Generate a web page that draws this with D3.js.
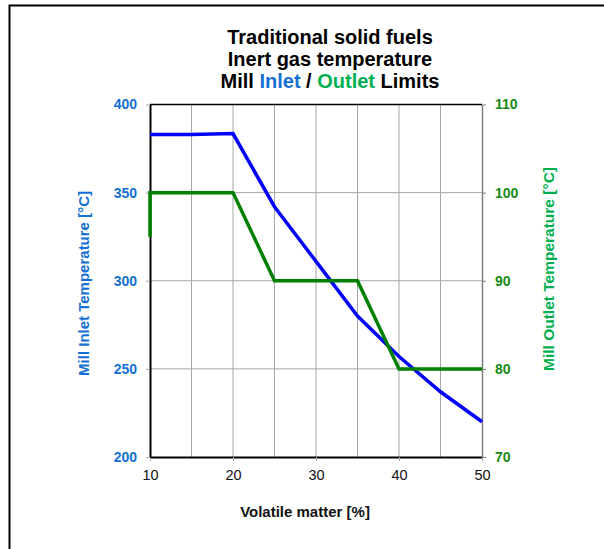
<!DOCTYPE html>
<html>
<head>
<meta charset="utf-8">
<script src="https://cdn.jsdelivr.net/npm/d3@7"></script>
<style>
	body { margin: 0; background: #fff; }
	svg { font-family: "Liberation Sans", Arial, sans-serif; }
</style>
</head>
<body>
<div id="chart"></div>
<script>
// volatile matter [%]
var volatile = [10, 15, 20, 25, 30, 35, 40, 45, 50];
// mill inlet limit [°C], left axis
var inletTemp = [383, 383, 383.5, 342, 311, 280, 257, 237, 220];
// mill outlet limit [°C], right axis; first point starts the vertical stub at x = 10
var outletX = [10, 10, 15, 20, 25, 30, 35, 40, 45, 50];
var outletTemp = [95, 100, 100, 100, 90, 90, 90, 80, 80, 80];

var xTicks = [10, 20, 30, 40, 50];
var xGrid = [15, 20, 25, 30, 35, 40, 45];
var leftTicks = [200, 250, 300, 350, 400];
var rightTicks = [70, 80, 90, 100, 110];

var W = 604, H = 549;
var margin = {top: 104.5, right: 122, bottom: 92, left: 150};
var width = W - margin.left - margin.right,
	height = H - margin.top - margin.bottom;

var blueText = "#1470d2",
	greenText = "#168a16",
	greenTitle = "#00b050";

var svg = d3.select("#chart").append("svg")
		.attr("width", W)
		.attr("height", H);

// outer frame
svg.append("path")
		.attr("d", `M9.5,${H} V5.5 H${W}`)
		.attr("fill", "none")
		.attr("stroke", "#000")
		.attr("stroke-width", 2);

var x = d3.scaleLinear().domain([10, 50]).range([0, width]);
var yL = d3.scaleLinear().domain([200, 400]).range([height, 0]);
var yR = d3.scaleLinear().domain([70, 110]).range([height, 0]);

var g = svg.append("g")
		.attr("transform", `translate(${margin.left}, ${margin.top})`);

// grid
g.append("g").selectAll("line")
		.data(xGrid)
	.enter().append("line")
		.attr("x1", d => x(d)).attr("x2", d => x(d))
		.attr("y1", 0).attr("y2", height)
		.attr("stroke", "#a6a6a6");

g.append("g").selectAll("line")
		.data(leftTicks.slice(1, -1))
	.enter().append("line")
		.attr("x1", 0).attr("x2", width)
		.attr("y1", d => yL(d)).attr("y2", d => yL(d))
		.attr("stroke", "#a6a6a6");

// axes
var xAxis = g.append("g")
		.attr("transform", `translate(0, ${height})`)
		.call(d3.axisBottom(x).tickValues(xTicks).tickSize(4).tickSizeOuter(0).tickPadding(9));
xAxis.select(".domain").attr("stroke", "#000").attr("stroke-width", 2);
xAxis.selectAll(".tick line").attr("stroke", "#a6a6a6");
xAxis.selectAll("text")
		.attr("font-size", 14.5)
		.attr("fill", "#111");

var leftAxis = g.append("g")
		.call(d3.axisLeft(yL).tickValues(leftTicks).tickSize(4).tickSizeOuter(0).tickPadding(9));
leftAxis.select(".domain").attr("stroke", "#000").attr("stroke-width", 2);
leftAxis.selectAll(".tick line").attr("stroke", "#a6a6a6");
leftAxis.selectAll("text")
		.attr("font-size", 14)
		.attr("font-weight", "bold")
		.attr("fill", blueText);

var rightAxis = g.append("g")
		.attr("transform", `translate(${width}, 0)`)
		.call(d3.axisRight(yR).tickValues(rightTicks).tickSize(4).tickSizeOuter(0).tickPadding(9));
rightAxis.select(".domain").attr("stroke", "#808080").attr("stroke-width", 1.5);
rightAxis.selectAll(".tick line").attr("stroke", "#808080");
rightAxis.selectAll("text")
		.attr("font-size", 14)
		.attr("font-weight", "bold")
		.attr("fill", greenText);

// top border of plot area
g.append("line")
		.attr("x1", 0).attr("x2", width)
		.attr("y1", 0).attr("y2", 0)
		.attr("stroke", "#000")
		.attr("stroke-width", 1.5);

// series
var inletLine = d3.line()
		.x((d, i) => x(volatile[i]))
		.y(d => yL(d));

g.append("path")
		.datum(inletTemp)
		.attr("d", inletLine)
		.attr("fill", "none")
		.attr("stroke", "#0000ff")
		.attr("stroke-width", 3.5);

var outletLine = d3.line()
		.x((d, i) => x(outletX[i]))
		.y(d => yR(d));

g.append("path")
		.datum(outletTemp)
		.attr("d", outletLine)
		.attr("fill", "none")
		.attr("stroke", "#008000")
		.attr("stroke-width", 3.5);

// titles
var title = svg.append("g")
		.attr("text-anchor", "middle")
		.attr("font-size", 20)
		.attr("font-weight", "bold")
		.attr("fill", "#000");
title.append("text").attr("x", 330).attr("y", 44).text("Traditional solid fuels");
title.append("text").attr("x", 330).attr("y", 66).text("Inert gas temperature");
var t3 = title.append("text").attr("x", 330).attr("y", 88);
t3.append("tspan").text("Mill ");
t3.append("tspan").attr("fill", blueText).text("Inlet");
t3.append("tspan").text(" / ");
t3.append("tspan").attr("fill", greenTitle).text("Outlet");
t3.append("tspan").text(" Limits");

svg.append("text")
		.attr("transform", "translate(89, 283.5) rotate(-90)")
		.attr("text-anchor", "middle")
		.attr("font-size", 15)
		.attr("font-weight", "bold")
		.attr("fill", blueText)
		.text("Mill Inlet Temperature [°C]");

svg.append("text")
		.attr("transform", "translate(554, 269) rotate(-90)")
		.attr("text-anchor", "middle")
		.attr("font-size", 15.5)
		.attr("font-weight", "bold")
		.attr("fill", greenTitle)
		.text("Mill Outlet Temperature [°C]");

svg.append("text")
		.attr("x", 305)
		.attr("y", 517)
		.attr("text-anchor", "middle")
		.attr("font-size", 15)
		.attr("font-weight", "bold")
		.attr("fill", "#111")
		.text("Volatile matter [%]");
</script>
</body>
</html>
